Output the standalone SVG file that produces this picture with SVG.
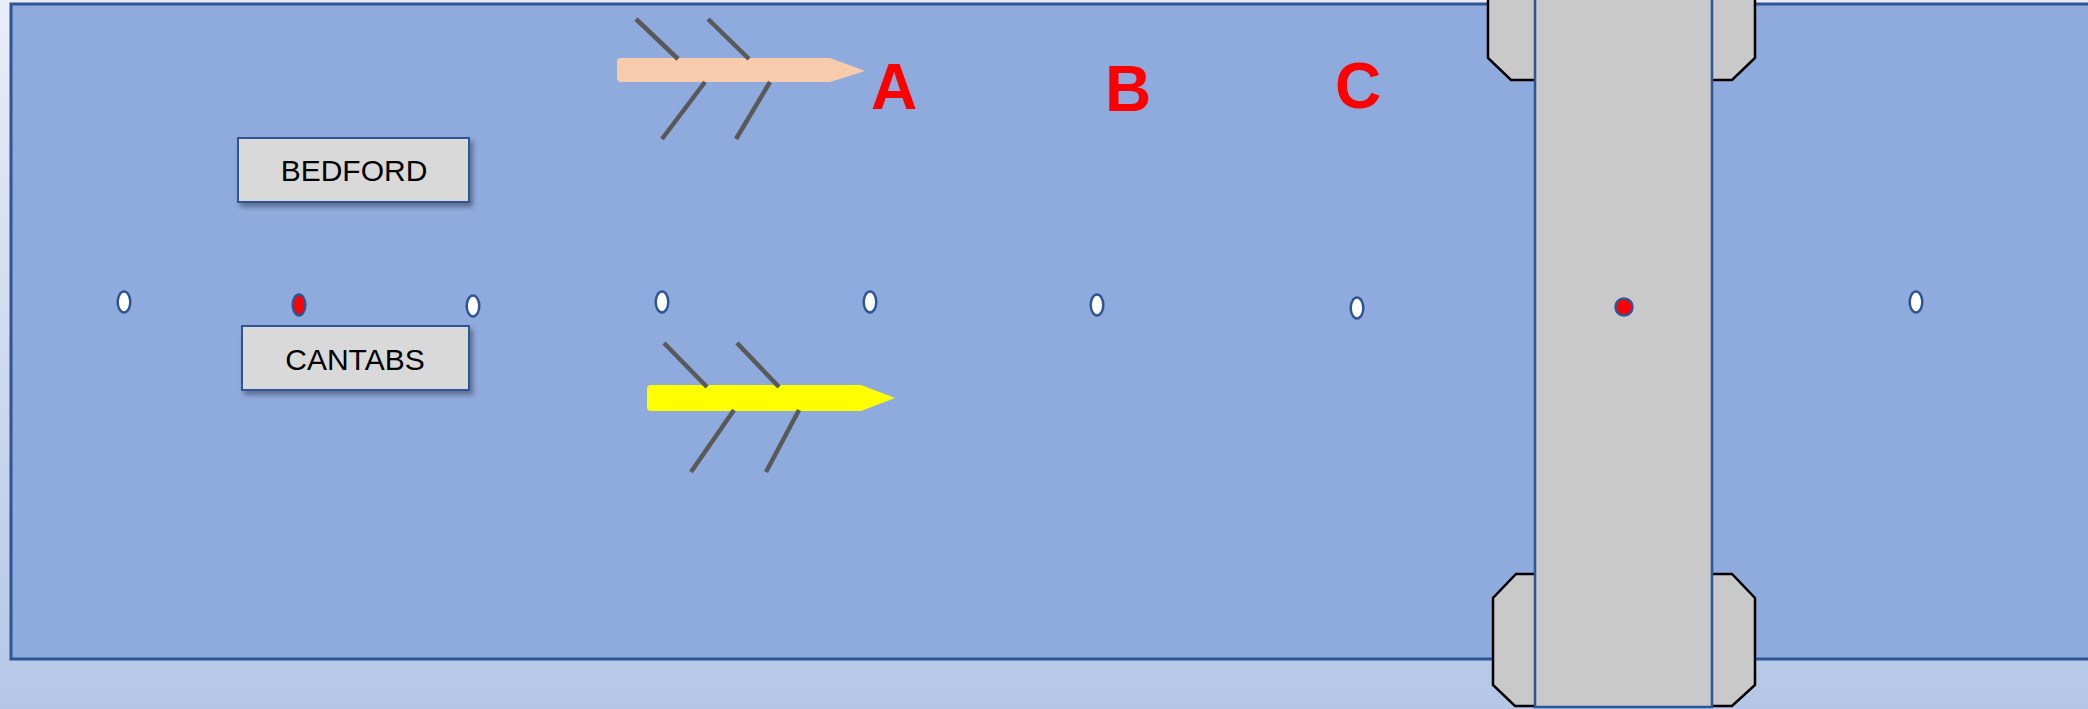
<svg xmlns="http://www.w3.org/2000/svg" width="2088" height="709" viewBox="0 0 2088 709">
<defs>
<linearGradient id="bg" x1="0" y1="0" x2="0" y2="1">
<stop offset="0" stop-color="#e9edf7"/>
<stop offset="1" stop-color="#b4c7e7"/>
</linearGradient>
<filter id="sh" x="-10%" y="-20%" width="130%" height="150%">
<feDropShadow dx="3" dy="4" stdDeviation="2.5" flood-color="#000" flood-opacity="0.35"/>
</filter>
</defs>
<style>
.bone{stroke:#595959;stroke-width:4.5;fill:none}
.dot{fill:#ffffff;stroke:#2f5597;stroke-width:2.5}
.red{fill:#ff0000;stroke:#2f5597;stroke-width:2.5}
.lbl{font-family:"Liberation Sans",Arial,sans-serif;font-weight:bold;font-size:64px;fill:#ff0000;text-anchor:middle}
.box{fill:#d9d9d9;stroke:#2f5597;stroke-width:2}
.btxt{font-family:"Liberation Sans",Arial,sans-serif;font-size:30px;fill:#000;text-anchor:middle}
.cap{fill:#c9c9c9;stroke:#000;stroke-width:2.5}
</style>
<rect x="0" y="0" width="2088" height="709" fill="url(#bg)"/>
<rect id="field" x="11" y="4" width="2090" height="655" fill="#8faadc" stroke="#2f5597" stroke-width="3"/>

<g id="arrowA">
<path d="M621,58 H830 L865,71 L830,82 H621 Q617,82 617,78 V62 Q617,58 621,58 Z" fill="#f8cbad"/>
<line class="bone" x1="636" y1="19" x2="678" y2="59"/>
<line class="bone" x1="708" y1="19" x2="749" y2="59"/>
<line class="bone" x1="705" y1="82" x2="662" y2="139"/>
<line class="bone" x1="770" y1="82" x2="736" y2="139"/>
</g>
<g id="arrowY">
<path d="M651,385 H861 L895,398 L861,411 H651 Q647,411 647,407 V389 Q647,385 651,385 Z" fill="#ffff00"/>
<line class="bone" x1="664" y1="343" x2="707" y2="387"/>
<line class="bone" x1="737" y1="343" x2="779" y2="387"/>
<line class="bone" x1="734" y1="410" x2="691" y2="472"/>
<line class="bone" x1="799" y1="410" x2="766" y2="472"/>
</g>

<g id="labelA"><text class="lbl" x="894" y="109">A</text></g>
<g id="labelB"><text class="lbl" x="1128" y="111">B</text></g>
<g id="labelC"><text class="lbl" x="1358" y="108">C</text></g>

<g id="bedford">
<rect class="box" x="238" y="138" width="231" height="64" filter="url(#sh)"/>
<text class="btxt" x="354" y="181">BEDFORD</text>
</g>
<g id="cantabs">
<rect class="box" x="242" y="326" width="227" height="64" filter="url(#sh)"/>
<text class="btxt" x="355" y="370">CANTABS</text>
</g>

<g id="pillar">
<polygon class="cap" points="1488,-5 1488,58 1511,80 1540,80 1540,-5"/>
<polygon class="cap" points="1755,-5 1755,58 1732,80 1705,80 1705,-5"/>
<polygon class="cap" points="1516,574 1540,574 1540,706 1515,706 1493,685 1493,598"/>
<polygon class="cap" points="1732,574 1705,574 1705,706 1732,706 1755,685 1755,598"/>
<rect x="1535" y="-5" width="177" height="712" fill="#c9c9c9" stroke="#2f5597" stroke-width="2.5"/>
</g>

<g id="dots">
<ellipse class="dot" cx="124" cy="302" rx="6.3" ry="10.5"/>
<ellipse class="red" cx="299" cy="305" rx="6.3" ry="10.5"/>
<ellipse class="dot" cx="473" cy="306" rx="6.3" ry="10.5"/>
<ellipse class="dot" cx="662" cy="302" rx="6.3" ry="10.5"/>
<ellipse class="dot" cx="870" cy="302" rx="6.3" ry="10.5"/>
<ellipse class="dot" cx="1097" cy="305" rx="6.3" ry="10.5"/>
<ellipse class="dot" cx="1357" cy="308" rx="6.3" ry="10.5"/>
<circle class="red" cx="1624" cy="307" r="8.5"/>
<ellipse class="dot" cx="1916" cy="302" rx="6.3" ry="10.5"/>
</g>
<g id="connectors"></g>
</svg>
